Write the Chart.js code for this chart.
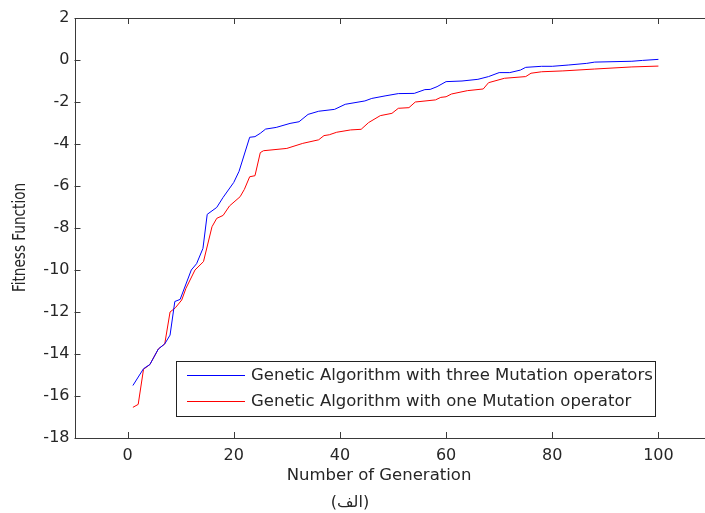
<!DOCTYPE html>
<html>
<head>
<meta charset="utf-8">
<script src="https://cdn.jsdelivr.net/npm/chart.js@4.4.1/dist/chart.umd.min.js"></script>
<style>
html, body { margin: 0; padding: 0; overflow: hidden; background: #fff; width: 705px; height: 513px; }
canvas { display: block; }
</style>
</head>
<body>
<canvas id="myChart" width="712" height="513"></canvas>
<script>
var genThree = [1, 3, 4.2, 5.8, 7, 8, 8.9, 9.9, 12, 13, 14.2, 15, 16.8, 18, 20, 21, 23, 24, 25, 26, 28, 30.6, 32.3, 34, 36, 39, 41, 44.7, 46, 48.5, 51, 54, 56, 57, 58.3, 60, 63, 66, 68, 70, 72, 74, 75, 78, 80, 83, 86.5, 88, 95, 97, 100];
var fitThree = [-15.5, -14.7, -14.5, -13.76, -13.52, -13.1, -11.5, -11.4, -10.0, -9.7, -8.97, -7.35, -7.02, -6.54, -5.83, -5.3, -3.68, -3.65, -3.49, -3.29, -3.21, -3.02, -2.94, -2.59, -2.44, -2.35, -2.11, -1.95, -1.83, -1.71, -1.6, -1.59, -1.41, -1.4, -1.27, -1.03, -1.0, -0.92, -0.79, -0.6, -0.6, -0.48, -0.35, -0.3, -0.3, -0.24, -0.16, -0.1, -0.06, -0.02, 0.03];
var genOne = [1, 2, 3, 4.2, 5.8, 7, 8, 9, 10.2, 11, 12.7, 14.3, 15.9, 16.8, 18, 19.2, 21.2, 22, 23, 24, 25, 25.6, 30, 33, 36, 37, 38, 39.4, 42, 44, 45.4, 47.6, 49.8, 51, 53, 54.2, 58, 59, 60, 61, 64, 67, 68, 71, 75, 76, 78, 82, 88, 95, 100];
var fitOne = [-16.54, -16.4, -14.73, -14.5, -13.76, -13.52, -12.0, -11.8, -11.43, -10.87, -10.0, -9.6, -7.94, -7.54, -7.4, -6.95, -6.51, -6.16, -5.56, -5.51, -4.41, -4.32, -4.21, -3.97, -3.8, -3.6, -3.56, -3.44, -3.33, -3.3, -2.98, -2.65, -2.54, -2.3, -2.27, -2.0, -1.9, -1.78, -1.75, -1.62, -1.46, -1.38, -1.08, -0.87, -0.79, -0.63, -0.56, -0.52, -0.43, -0.33, -0.29];
var xTicks = [0, 20, 40, 60, 80, 100];
var yTicks = [-18, -16, -14, -12, -10, -8, -6, -4, -2, 0, 2];
var seriesLabels = ["Genetic Algorithm with three Mutation operators", "Genetic Algorithm with one Mutation operator"];
var seriesColors = ["#0000ff", "#ff0000"];
var xTitle = "Number of Generation";
var yTitle = "Fitness Function";
var caption = "(الف)";

function toPoints(gens, vals) {
    return gens.map(function (g, i) { return { x: g, y: vals[i] }; });
}

var axisColor = "#3a3a3a";
var textColor = "#262626";

var matlabBox = {
    id: "matlabBox",
    afterDraw: function (chart) {
        var ctx = chart.ctx;
        var a = chart.chartArea;
        var xs = chart.scales.x;
        var ys = chart.scales.y;
        ctx.save();
        ctx.strokeStyle = axisColor;
        ctx.lineWidth = 1;
        ctx.strokeRect(Math.round(a.left) + 0.5, Math.round(a.top) + 0.5, Math.round(a.right - a.left), Math.round(a.bottom - a.top));
        ctx.beginPath();
        xTicks.forEach(function (v) {
            var px = Math.round(xs.getPixelForValue(v)) + 0.5;
            ctx.moveTo(px, a.bottom); ctx.lineTo(px, a.bottom - 6);
            ctx.moveTo(px, a.top); ctx.lineTo(px, a.top + 6);
        });
        yTicks.forEach(function (v) {
            var py = Math.round(ys.getPixelForValue(v)) + 0.5;
            ctx.moveTo(a.left, py); ctx.lineTo(a.left + 6, py);
            ctx.moveTo(a.right, py); ctx.lineTo(a.right - 6, py);
        });
        ctx.stroke();

        // legend inside the axes
        ctx.fillStyle = "#fff";
        ctx.fillRect(176.5, 361.5, 479, 55);
        ctx.strokeStyle = "#222";
        ctx.strokeRect(176.5, 361.5, 479, 55);
        ctx.font = "16.5px 'DejaVu Sans'";
        ctx.textBaseline = "middle";
        ctx.textAlign = "left";
        [375.5, 401.5].forEach(function (y, i) {
            ctx.strokeStyle = seriesColors[i];
            ctx.beginPath();
            ctx.moveTo(187, y); ctx.lineTo(245, y);
            ctx.stroke();
            ctx.fillStyle = textColor;
            ctx.fillText(chart.data.datasets[i].label, 251, y);
        });

        ctx.fillStyle = textColor;
        ctx.textAlign = "center";
        ctx.font = "16.5px 'DejaVu Sans'";
        ctx.fillText(xTitle, 379, 476);
        ctx.font = "16px 'DejaVu Sans'";
        ctx.fillText(caption, 350, 503);
        ctx.translate(20, 237.5);
        ctx.rotate(-Math.PI / 2);
        ctx.scale(1, 1.3);
        ctx.font = "13.6px 'DejaVu Sans'";
        ctx.fillText(yTitle, 0, 0);
        ctx.restore();
    }
};

var ctx = document.getElementById("myChart").getContext("2d");
var myChart = new Chart(ctx, {
    type: "line",
    data: {
        datasets: [
            {
                label: seriesLabels[0],
                data: toPoints(genThree, fitThree),
                borderColor: seriesColors[0],
                borderWidth: 1,
                pointRadius: 0,
                tension: 0,
            },
            {
                label: seriesLabels[1],
                data: toPoints(genOne, fitOne),
                borderColor: seriesColors[1],
                borderWidth: 1,
                pointRadius: 0,
                tension: 0,
            },
        ],
    },
    options: {
        responsive: false,
        animation: false,
        devicePixelRatio: 1,
        layout: { padding: { top: 18, right: 0.5, left: 0, bottom: 0 } },
        plugins: {
            legend: { display: false },
            tooltip: { enabled: false },
        },
        scales: {
            x: {
                type: "linear",
                min: -10,
                max: 110,
                afterBuildTicks: function (s) { s.ticks = xTicks.map(function (v) { return { value: v }; }); },
                afterFit: function (s) { s.height = 75; },
                grid: { display: false, drawTicks: false },
                border: { display: false },
                ticks: { font: { family: "DejaVu Sans", size: 16 }, color: textColor, padding: 8, maxRotation: 0, autoSkip: false },
            },
            y: {
                type: "linear",
                min: -18,
                max: 2,
                afterBuildTicks: function (s) { s.ticks = yTicks.map(function (v) { return { value: v }; }); },
                afterFit: function (s) { s.width = 74.5; },
                grid: { display: false, drawTicks: false },
                border: { display: false },
                ticks: { font: { family: "DejaVu Sans", size: 16 }, color: textColor, padding: 5, autoSkip: false },
            },
        },
    },
    plugins: [matlabBox],
});
</script>
</body>
</html>
